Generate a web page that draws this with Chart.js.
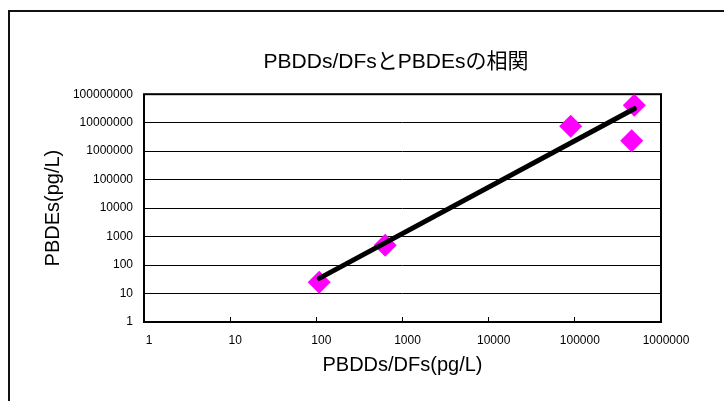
<!DOCTYPE html>
<html>
<head>
<meta charset="utf-8">
<script src="https://cdn.jsdelivr.net/npm/chart.js@4.4.0/dist/chart.umd.min.js"></script>
<style>
    body { margin: 0; background: #ffffff; }
    canvas { display: block; }
</style>
</head>
<body>
<canvas id="chart_correlation" width="724" height="401"></canvas>
<script>
var chartTitle = "PBDDs/DFsとPBDEsの相関";
var xTitle = "PBDDs/DFs(pg/L)";
var yTitle = "PBDEs(pg/L)";

// measured samples
var sampleX = [108, 630, 89500, 490000, 457000];
var sampleY = [25, 500, 7500000, 41000000, 2300000];

// power trend line end points
var trendX = [108, 490000];
var trendY = [34, 31000000];

var xTicks = [1, 10, 100, 1000, 10000, 100000, 1000000];
var yTicks = [1, 10, 100, 1000, 10000, 100000, 1000000, 10000000, 100000000];

var fontLatin = '"Liberation Sans", Arial, "Noto Sans CJK JP", sans-serif';

function toPoints(xs, ys){
    var arr = [];
    for(var i = 0; i < xs.length; i++){
        arr.push({x: xs[i], y: ys[i]});
    }
    return arr;
}

function decadeTicks(list){
    return function(scale){
        scale.ticks = list.map(function(v){ return {value: v}; });
    };
}

// outer frame + plot border
var framePlugin = {
    id: 'frame',
    beforeDraw: function(chart){
        var ctx = chart.ctx;
        ctx.save();
        ctx.strokeStyle = '#111111';
        ctx.lineWidth = 2;
        ctx.strokeRect(9, 11, 900, 600);
        ctx.restore();
    },
    beforeDatasetsDraw: function(chart){
        var ctx = chart.ctx;
        var a = chart.chartArea;
        ctx.save();
        ctx.strokeStyle = '#000000';
        ctx.lineWidth = 2;
        ctx.strokeRect(a.left, a.top, a.right - a.left, a.bottom - a.top);
        ctx.restore();
    }
};

var config = {
    type: 'scatter',
    data: {
        datasets: [{
            type: 'line',
            label: 'trend',
            data: toPoints(trendX, trendY),
            borderColor: '#000000',
            borderWidth: 5,
            borderCapStyle: 'round',
            pointRadius: 0,
            fill: false,
            order: 0
        }, {
            label: 'samples',
            data: toPoints(sampleX, sampleY),
            pointStyle: 'rectRot',
            pointRadius: 11.5,
            pointBackgroundColor: '#ff00ff',
            pointBorderWidth: 0,
            borderWidth: 0,
            order: 1
        }]
    },
    options: {
        responsive: false,
        animation: false,
        // left padding pushes the title centre to the right like the original
        layout: { padding: { left: 68, right: 0, top: 0, bottom: 0 } },
        plugins: {
            legend: { display: false },
            tooltip: { enabled: false },
            title: {
                display: true,
                text: chartTitle,
                color: '#000000',
                font: { family: fontLatin, size: 21, weight: 'normal' },
                padding: { top: 50, bottom: 19 }
            }
        },
        scales: {
            x: {
                type: 'logarithmic',
                min: 1,
                max: 1000000,
                afterBuildTicks: decadeTicks(xTicks),
                afterFit: function(scale){ scale.height = 79; },
                border: { display: false },
                grid: {
                    drawOnChartArea: false,
                    drawTicks: true,
                    tickLength: -5,
                    color: '#000000',
                    lineWidth: 1
                },
                ticks: {
                    color: '#000000',
                    font: { family: fontLatin, size: 12 },
                    padding: 16.5,
                    labelOffset: 5,
                    maxRotation: 0,
                    autoSkip: false,
                    callback: function(v){ return String(v); }
                },
                title: {
                    display: true,
                    text: xTitle,
                    color: '#000000',
                    font: { family: fontLatin, size: 20 },
                    padding: { top: 0, bottom: 24 }
                }
            },
            y: {
                type: 'logarithmic',
                min: 1,
                max: 100000000,
                afterBuildTicks: decadeTicks(yTicks),
                afterFit: function(scale){ scale.width = 76; },
                border: { display: false },
                grid: {
                    drawOnChartArea: true,
                    drawTicks: false,
                    color: '#000000',
                    lineWidth: 1
                },
                ticks: {
                    color: '#000000',
                    font: { family: fontLatin, size: 12 },
                    padding: 11,
                    autoSkip: false,
                    callback: function(v){ return String(v); }
                },
                title: {
                    display: true,
                    text: yTitle,
                    color: '#000000',
                    font: { family: fontLatin, size: 20 },
                    padding: { top: -27, bottom: 0 }
                }
            },
            yRight: {
                // empty spacer so the plot ends where the original does
                position: 'right',
                display: true,
                afterFit: function(scale){ scale.width = 63; },
                grid: { display: false },
                border: { display: false },
                ticks: { display: false }
            }
        }
    },
    plugins: [framePlugin]
};

var chartCorrelation = new Chart(document.getElementById('chart_correlation').getContext('2d'), config);
</script>
</body>
</html>
